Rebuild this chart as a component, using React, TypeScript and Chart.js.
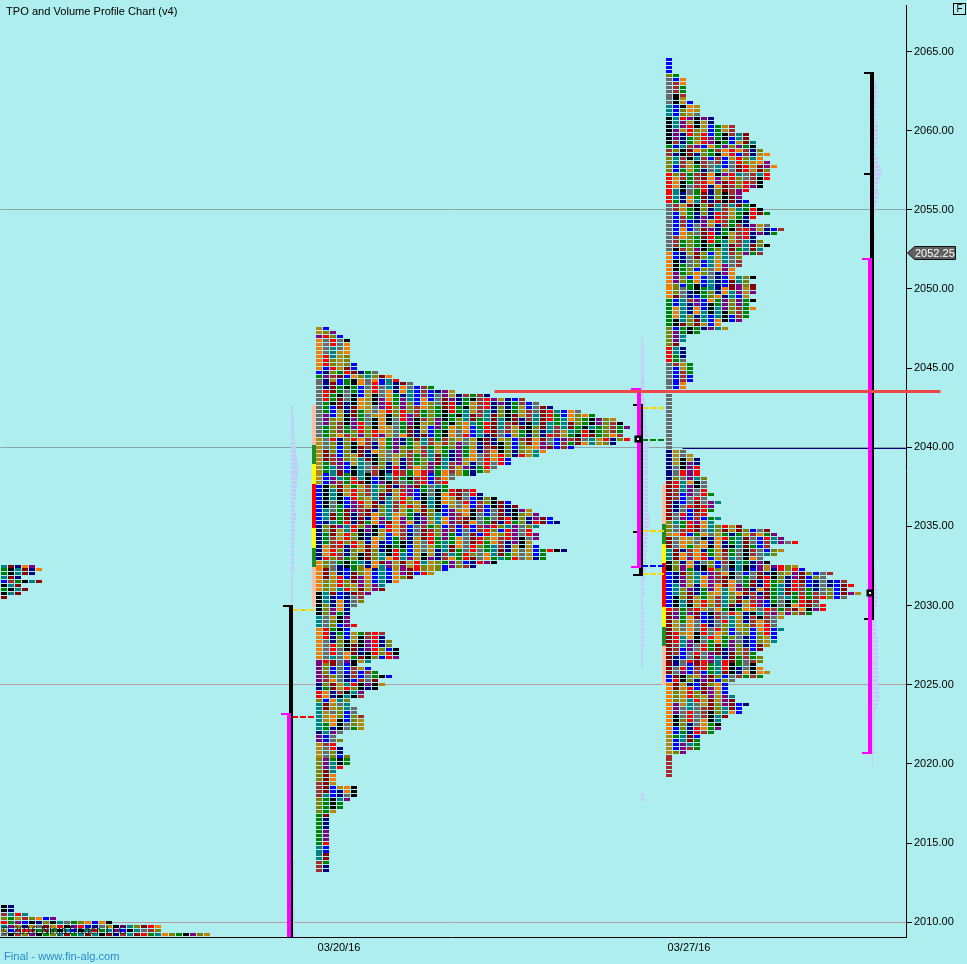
import React, { useEffect, useRef } from "react";
import { Chart, registerables } from "chart.js";

Chart.register(...registerables);

// ---------- palette (order of the 30-minute periods) ----------
const BL = 0, BR = 1, GN = 2, BK = 3, TL = 4, DR = 5, NV = 6, OR = 7, PU = 8, GD = 9, GY = 10, RD = 11, OL = 12;
const PERIOD_COLORS = ["#0000ff", "#a52a2a", "#008000", "#000000", "#008080", "#8b0000", "#000080", "#f57c00", "#800080", "#b8860b", "#696969", "#ff0000", "#808000"];

// ---------- scales ----------
const PRICE_MIN = 2009.07;
const PRICE_MAX = 2067.935;
const COL_MIN = 0;
const COL_MAX = 129.43;
const PRICE_TICKS = [2010, 2015, 2020, 2025, 2030, 2035, 2040, 2045, 2050, 2055, 2060, 2065];
const DATE_TICK_COLS = [48.43, 98.43];
const DATE_TICK_LABELS = ["03/20/16", "03/27/16"];
const CURRENT_PRICE = 2052.25;

// ---------- TPO profiles: number of TPOs on each 0.25 price row, top to bottom ----------
const LEFT_TOP_PRICE = 2032.5;
const LEFT_COL = 0.14;
const LEFT_ROWS = [5, 6, 5, 3, 6, 3, 4, 3, 1];
const LEFT_FIRST = [[TL, 1], [GN, 2], [TL, 1], [BL, 1], [BK, 1], [GN, 1], [BK, 1], [DR, 1]];

const CORNER_TOP_PRICE = 2011;
const CORNER_ROWS = [2, 2, 4, 8, 16, 23, 23, 30, 37];
const CORNER_FIRST = [[BK, 2], [BR, 1], [OL, 1], [RD, 1], [TL, 1], [GD, 1], [GY, 1], [OL, 1]];

const WEEK1_TOP_PRICE = 2047.5;
const WEEK1_COL = 45.143;
const WEEK1_ROWS = [
  2, 3, 4, 5, 5, 5, 5, 5, 5, 6, 6, 9, 11, 12, 14,
  17, 20, 25, 30, 32, 34, 38, 40, 43, 44, 45, 44, 44, 45, 43, 37, 33, 32, 28, 28,
  26, 25, 23, 20, 19, 19, 23, 24, 26, 28, 29, 31, 32, 34, 35, 32, 31, 32, 32, 31,
  32, 36, 33, 33, 26, 23, 19, 17, 14, 12, 10, 10, 8, 7,
  7, 6, 5, 5, 5, 5, 6, 5, 10, 10, 11, 11, 12, 12, 12, 8, 6, 8, 9, 11, 9, 10, 9, 7, 7, 5, 5, 6, 6, 7, 7, 7, 7, 4, 3, 4,
  3, 4, 4, 5, 5, 5, 4, 3, 3, 3, 3, 6, 6, 6, 5, 4, 4, 3, 2, 2, 2, 2, 2, 2, 2, 2, 2, 2, 2, 2, 2, 2, 2,
];
const WEEK1_FIRST = [
  [GD, 2], [PU, 1], [OR, 8], [BL, 1], [GN, 1], [GY, 15], [GD, 12], [BL, 10], [NV, 9], [OR, 8], [BK, 6], [TL, 3], [OR, 8],
  [PU, 6], [NV, 2], [RD, 2], [OL, 1], [TL, 7], [NV, 1], [PU, 2], [GD, 4], [OL, 6], [BR, 4], [OL, 4], [GN, 8], [TL, 4], [BR, 3],
];

const WEEK2_TOP_PRICE = 2064.5;
const WEEK2_COL = 95.143;
const WEEK2_UPPER_ROWS = [
  1, 1, 1, 1, 2, 3, 3, 3, 3, 3, 3, 4, 5, 5, 5, 7, 7, 10, 10, 12, 12, 13, 13, 14, 15, 14, 15, 16, 15, 15, 15, 14, 14, 12, 11, 11,
  12, 13, 14, 15, 13, 12, 15, 17, 16, 13, 14, 15, 14, 14, 11, 11, 11, 10, 10, 13, 12, 13, 13, 13, 12, 13, 12, 13, 12, 12,
  11, 8, 9, 5, 3, 3, 2, 3, 3, 3, 3, 4, 4, 4, 4, 4, 3, 3,
  1, 1, 1, 1, 1, 1, 1, 1, 1, 1, 1, 1, 1, 1,
];
const WEEK2_LOWER_ROWS = [
  1, 3, 4, 5, 5, 5, 5, 5, 6, 6, 6, 6, 7, 6, 8, 7, 7, 6, 8, 7,
  11, 15, 16, 17, 19, 15, 17, 16, 14, 15, 19, 20, 24, 23, 26, 27, 26, 28, 26, 22, 23, 23, 21, 17, 16, 16, 17,
  16, 16, 16, 15, 14, 13, 14, 14, 13, 14, 15, 14, 10, 9, 9, 9, 10, 10, 12, 11, 11, 9, 8, 8, 8, 7, 5, 5, 5, 5, 3, 1, 1, 1, 1, 1, 1,
];
const WEEK2_UPPER_FIRST = [
  [BL, 4], [OL, 1], [GY, 7], [TL, 3], [BK, 7], [GN, 1], [BR, 2], [OL, 4], [RD, 8], [GY, 12], [OR, 12], [GN, 7], [OL, 5], [RD, 4], [GY, 21],
];
const WEEK2_LOWER_FIRST = [
  [GY, 1], [NV, 8], [DR, 10], [OL, 3], [GD, 1], [DR, 3], [TL, 3], [BK, 3], [BL, 9], [RD, 1], [DR, 16], [BL, 2], [OR, 13], [GD, 5], [BR, 6],
];

// ---------- volume profiles: relative volume on each 0.25 price row ----------
const VOLUME_COLOR = "#c2cbfa";
const VOL1_COL = 41.57;
const VOL1_TOP_PRICE = 2042.5;
const VOL1_ROWS = [2, 2, 3, 3, 3, 3, 3, 3, 4, 4, 5, 5, 6, 6, 7, 7, 7, 7, 6, 6, 6, 5, 5, 5, 4, 4, 4, 5, 5, 4, 4, 4, 4, 4, 3, 3, 3, 3, 3, 3, 3, 3, 2, 2, 2, 2, 2, 2, 2, 2, 2, 2];
const VOL1B_TOP_PRICE = 2013.75;
const VOL1B_ROWS = [4, 3, 3, 3, 3, 4, 3, 3, 3, 3, 3, 3, 4, 4, 4, 4, 3, 3, 4];
const VOL2_COL = 91.57;
const VOL2_TOP_PRICE = 2046.75;
const VOL2_ROWS = [
  2, 2, 3, 2, 3, 3, 3, 2, 3, 3, 3, 3, 3, 3, 3, 4, 4, 4, 4, 4, 5, 5, 6, 6, 7, 8, 8, 8, 7, 7, 7, 7, 7, 7, 7, 7, 7, 7, 7, 7, 7, 7, 7, 7,
  8, 9, 9, 8, 8, 7, 7, 6, 6, 6, 5, 5, 5, 4, 5, 4, 4, 3, 3, 3, 3, 2, 2, 2, 3, 3, 3, 3, 3, 3, 3, 3, 3, 3, 2, 2, 2, 2, 2,
];
const VOL2B_TOP_PRICE = 2018;
const VOL2B_ROWS = [3, 3];
const VOL3_COL = 124.57;
const VOL3_TOP_PRICE = 2063;
const VOL3_ROWS = [4, 5, 5, 4, 4, 4, 4, 4, 4, 4, 5, 6, 6, 6, 6, 5, 4, 4, 4, 6, 6, 8, 10, 9, 8, 6, 5, 6, 7, 6, 5, 4, 3, 3, 2, 2, 2, 1, 3, 3];
const VOL3B_TOP_PRICE = 2032.5;
const VOL3B_ROWS = [3, 3, 3, 3, 3, 4, 5, 5, 5, 5, 5, 3, 3, 3, 4, 4, 5, 5, 6, 6, 6, 6, 6, 7, 6, 6, 6, 6, 7, 6, 6, 7, 7, 8, 7, 6, 5, 3, 3, 2, 2, 2, 2, 3, 2, 2, 2, 2, 1, 1, 1, 1];

// ---------- session strips beside each profile: [colour, upper price, lower price] ----------
const PEACH = "#ffbfa6", FOREST = "#228b22", YELLOW = "#ffff00", STRIP_RED = "#ff0000";
const STRIP1_COL = 44.86;
const STRIP1 = [
  [PEACH, 2042.68, 2040.15], [FOREST, 2040.15, 2038.95], [YELLOW, 2038.95, 2037.69], [STRIP_RED, 2037.69, 2034.9],
  [YELLOW, 2034.9, 2033.64], [FOREST, 2033.64, 2032.44], [PEACH, 2032.44, 2029.91],
];
const STRIP2_COL = 94.86;
const STRIP2 = [
  [PEACH, 2037.69, 2035.16], [FOREST, 2035.16, 2033.89], [YELLOW, 2033.89, 2032.69], [STRIP_RED, 2032.69, 2029.91],
  [YELLOW, 2029.91, 2028.65], [FOREST, 2028.65, 2027.44], [PEACH, 2027.44, 2024.98],
];

// ---------- range bars: [colour, width, col from, price from, col to, price to] ----------
const BLACK = "#000000", MAGENTA = "#ff00ff";
const BLACK_BARS = [
  [BLACK, 4, 41.57, 2029.95, 41.57, 2009.07],
  [BLACK, 2, 40.43, 2029.95, 41.86, 2029.95],
  [BLACK, 4, 91.57, 2042.68, 91.57, 2031.93],
  [BLACK, 2, 90.43, 2042.68, 91.86, 2042.68],
  [BLACK, 2, 90.43, 2034.65, 91.86, 2034.65],
  [BLACK, 2, 90.43, 2031.93, 91.86, 2031.93],
  [BLACK, 4, 124.57, 2063.67, 124.57, 2051.9],
  [BLACK, 2, 124.71, 2051.9, 124.71, 2029.15],
  [BLACK, 2, 123.43, 2063.67, 124.86, 2063.67],
  [BLACK, 2, 123.43, 2057.25, 124.29, 2057.25],
  [BLACK, 2, 123.43, 2029.15, 124.86, 2029.15],
];
const MAGENTA_BARS = [
  [MAGENTA, 4, 41.29, 2023.15, 41.29, 2009.07],
  [MAGENTA, 2, 40.14, 2023.15, 41.57, 2023.15],
  [MAGENTA, 4, 91.29, 2043.69, 91.29, 2032.44],
  [MAGENTA, 2, 90.14, 2043.69, 91.57, 2043.69],
  [MAGENTA, 2, 90.14, 2032.44, 91.57, 2032.44],
  [MAGENTA, 4, 124.29, 2051.9, 124.29, 2020.68],
  [MAGENTA, 2, 123.14, 2051.9, 124.57, 2051.9],
  [MAGENTA, 2, 123.14, 2020.68, 124.57, 2020.68],
];

// ---------- dashed levels: [colour, price, col from, col to] ----------
const DASH_YELLOW = "#ffd400", DASH_GREEN = "#008000", DASH_BLUE = "#0000ff", DASH_RED = "#ff0000";
const DASHED_LEVELS = [
  [DASH_YELLOW, 2029.72, 41.71, 44.86],
  [DASH_RED, 2022.95, 41.71, 44.86],
  [DASH_YELLOW, 2042.49, 91.71, 94.86],
  [DASH_GREEN, 2040.47, 91.71, 94.86],
  [DASH_YELLOW, 2034.71, 91.71, 94.86],
  [DASH_BLUE, 2032.5, 91.71, 94.86],
  [DASH_YELLOW, 2031.99, 91.71, 94.86],
];

// ---------- price lines ----------
const GRID_LEVELS = [
  [2055, "#8da6ab"],
  [2040, "#8da6ab"],
  [2025, "#b89aa0"],
  [2010, "#b89aa0"],
];
const NAVY_LEVEL = 2039.92;
const NAVY_FROM_COL = 97.43;
const RED_LEVEL = 2043.55;
const RED_FROM_COL = 70.71;
const RED_TO_COL = 134.29;
const VPOC_POINTS = [
  [91.14, 2040.53],
  [124.29, 2030.79],
];

// ---------- building marks from the lists ----------
function expandRuns(runs: number[][]) {
  const out: number[] = [];
  runs.forEach(([idx, n]) => {
    for (let i = 0; i < n; i++) out.push(idx);
  });
  return out;
}

// The period a TPO belongs to stays the same for a few rows in a column, then moves on.
function stepOffset(row: number, col: number) {
  if (col === 0) return 0;
  const block = Math.floor((row + col * 2) / 3);
  return (block * block * 7 + block * col * 5 + col * 3) % 13;
}

type Cell = { x: number[]; y: number };

function addProfile(cells: Cell[], colors: string[], rows: number[], topPrice: number, startCol: number, first: number[], rowShift: number, useSteps: boolean) {
  rows.forEach((count, r) => {
    let prev = -1;
    for (let c = 0; c < count; c++) {
      const offset = useSteps ? stepOffset(r + rowShift, c) : 0;
      let idx = (first[r] + c + offset) % 13;
      if (idx === prev) idx = (idx + 1) % 13;
      prev = idx;
      colors.push(PERIOD_COLORS[idx]);
      cells.push({ x: [startCol + c, startCol + c + 6 / 7], y: topPrice - r * 0.25 });
    }
  });
}

function buildCells() {
  const cells: Cell[] = [];
  const colors: string[] = [];
  addProfile(cells, colors, LEFT_ROWS, LEFT_TOP_PRICE, LEFT_COL, expandRuns(LEFT_FIRST), 0, false);
  addProfile(cells, colors, CORNER_ROWS, CORNER_TOP_PRICE, LEFT_COL, expandRuns(CORNER_FIRST), 3, true);
  addProfile(cells, colors, WEEK1_ROWS, WEEK1_TOP_PRICE, WEEK1_COL, expandRuns(WEEK1_FIRST), 0, true);
  addProfile(cells, colors, WEEK2_UPPER_ROWS, WEEK2_TOP_PRICE, WEEK2_COL, expandRuns(WEEK2_UPPER_FIRST), 1, true);
  addProfile(cells, colors, WEEK2_LOWER_ROWS, 2040, WEEK2_COL, expandRuns(WEEK2_LOWER_FIRST), 2, true);
  return { cells, colors };
}

function buildVolume() {
  const add = (rows: number[], top: number, col: number) =>
    rows.map((v, r) => ({ x: [col, col + v / 7], y: top - r * 0.25 }));
  return [
    ...add(VOL1_ROWS, VOL1_TOP_PRICE, VOL1_COL),
    ...add(VOL1B_ROWS, VOL1B_TOP_PRICE, VOL1_COL),
    ...add(VOL2_ROWS, VOL2_TOP_PRICE, VOL2_COL),
    ...add(VOL2B_ROWS, VOL2B_TOP_PRICE, VOL2_COL),
    ...add(VOL3_ROWS, VOL3_TOP_PRICE, VOL3_COL),
    ...add(VOL3B_ROWS, VOL3B_TOP_PRICE, VOL3_COL),
  ];
}

function segment(color: string, width: number, pts: number[][], order: number, extra: object = {}) {
  return {
    type: "line",
    indexAxis: "x",
    data: pts.map(([x, y]) => ({ x, y })),
    borderColor: color,
    borderWidth: width,
    borderCapStyle: "butt",
    pointRadius: 0,
    fill: false,
    tension: 0,
    order,
    ...extra,
  };
}

function buildDatasets() {
  const { cells, colors } = buildCells();
  const list: any[] = [];
  GRID_LEVELS.forEach(([p, c]) => list.push(segment(c as string, 1, [[COL_MIN, p as number], [COL_MAX, p as number]], 100)));
  list.push({
    type: "bar",
    indexAxis: "y",
    data: buildVolume(),
    backgroundColor: VOLUME_COLOR,
    barThickness: 3,
    grouped: false,
    inflateAmount: 0,
    borderWidth: 0,
    order: 90,
  });
  list.push({
    type: "bar",
    indexAxis: "y",
    data: cells,
    backgroundColor: colors,
    barThickness: 3,
    grouped: false,
    inflateAmount: 0,
    borderWidth: 0,
    order: 80,
  });
  list.push(segment("#000080", 1, [[NAVY_FROM_COL, NAVY_LEVEL], [COL_MAX, NAVY_LEVEL]], 75));
  [[STRIP1, STRIP1_COL], [STRIP2, STRIP2_COL]].forEach(([strip, col]: any) => {
    strip.forEach(([color, hi, lo]: any) => list.push(segment(color, 4, [[col, hi], [col, lo]], 70)));
  });
  DASHED_LEVELS.forEach(([c, p, a, b]) =>
    list.push(segment(c as string, 2, [[a as number, p as number], [b as number, p as number]], 60, { borderDash: [6, 2] })),
  );
  BLACK_BARS.forEach(([c, w, x0, y0, x1, y1]) =>
    list.push(segment(c as string, w as number, [[x0 as number, y0 as number], [x1 as number, y1 as number]], 50)),
  );
  MAGENTA_BARS.forEach(([c, w, x0, y0, x1, y1]) =>
    list.push(segment(c as string, w as number, [[x0 as number, y0 as number], [x1 as number, y1 as number]], 40)),
  );
  list.push({
    type: "line",
    indexAxis: "x",
    data: VPOC_POINTS.map(([x, y]) => ({ x, y })),
    showLine: false,
    pointStyle: "rect",
    pointRadius: 3.2,
    pointBorderWidth: 2.5,
    pointBorderColor: "#000000",
    pointBackgroundColor: "#ffffff",
    order: 30,
  });
  list.push(segment("#f04848", 3, [[RED_FROM_COL, RED_LEVEL], [RED_TO_COL, RED_LEVEL]], 10, { clip: false }));
  return list;
}

const FONT = '"Liberation Sans", Arial, sans-serif';

// Bars and lines land on whole pixels, as the original platform draws them.
const pixelSnap = {
  id: "pixelSnap",
  beforeDatasetsDraw(chart: any) {
    if (chart.$snapped) return;
    chart.$snapped = true;
    chart.data.datasets.forEach((ds: any, i: number) => {
      const meta = chart.getDatasetMeta(i);
      if (ds.type === "bar") {
        meta.data.forEach((el: any) => {
          el.y = Math.round(el.y - el.height / 2) + el.height / 2;
          el.x = Math.round(el.x);
          el.base = Math.round(el.base);
        });
      } else if (ds.showLine !== false) {
        const odd = ds.borderWidth % 2 === 1;
        meta.data.forEach((p: any) => {
          p.x = odd ? Math.floor(p.x) + 0.5 : Math.round(p.x);
          p.y = odd ? Math.floor(p.y) + 0.5 : Math.round(p.y);
        });
      }
    });
  },
};

const annotations = {
  id: "annotations",
  afterDraw(chart: any) {
    const { ctx, scales } = chart;
    ctx.save();
    ctx.textBaseline = "middle";
    ctx.textAlign = "left";

    ctx.font = `11.1px ${FONT}`;
    ctx.fillStyle = "#000000";
    ctx.fillText("TPO and Volume Profile Chart (v4)", 6, 12);

    ctx.font = `11.4px ${FONT}`;
    ctx.fillStyle = "rgba(0,0,0,0.85)";
    ctx.fillText("© 2016 NinjaTrader, LLC", 1, 931);

    ctx.font = `11.2px ${FONT}`;
    ctx.fillStyle = "#2b8ccc";
    ctx.fillText("Final - www.fin-alg.com", 4, 957);

    ctx.strokeStyle = "#000000";
    ctx.lineWidth = 1;
    ctx.strokeRect(953.5, 3.5, 12, 11);
    ctx.font = `10px ${FONT}`;
    ctx.fillStyle = "#000000";
    ctx.textAlign = "center";
    ctx.fillText("F", 959.5, 9.5);

    const y = Math.round(scales.y.getPixelForValue(CURRENT_PRICE));
    ctx.beginPath();
    ctx.moveTo(907.5, y);
    ctx.lineTo(914.5, y - 6.5);
    ctx.lineTo(955.5, y - 6.5);
    ctx.lineTo(955.5, y + 6.5);
    ctx.lineTo(914.5, y + 6.5);
    ctx.closePath();
    ctx.fillStyle = "#606060";
    ctx.fill();
    ctx.strokeStyle = "#111111";
    ctx.stroke();
    ctx.font = `11px ${FONT}`;
    ctx.fillStyle = "#ffffff";
    ctx.textAlign = "left";
    ctx.fillText(CURRENT_PRICE.toFixed(2), 915, y + 0.5);
    ctx.restore();
  },
};

function fitAxis(s: any) {
  s.paddingLeft = 0;
  s.paddingRight = 0;
  s.paddingTop = 0;
  s.paddingBottom = 0;
}

export default function App() {
  const ref = useRef<HTMLCanvasElement | null>(null);
  useEffect(() => {
    document.body.style.margin = "0";
    document.body.style.background = "#afeeee";
    const chart = new Chart(ref.current as HTMLCanvasElement, {
      type: "scatter",
      data: { datasets: buildDatasets() },
      options: {
        responsive: false,
        animation: false,
        devicePixelRatio: 1,
        events: [],
        layout: { autoPadding: false, padding: { top: 5, left: 0, right: 0, bottom: 0 } },
        plugins: { legend: { display: false }, tooltip: { enabled: false }, title: { display: false } },
        scales: {
          x: {
            type: "linear",
            position: "bottom",
            min: COL_MIN,
            max: COL_MAX,
            offset: false,
            beginAtZero: false,
            grid: { display: false, offset: false, drawTicks: false },
            border: { display: true, color: "#000000", width: 1 },
            afterBuildTicks: (s: any) => {
              s.ticks = DATE_TICK_COLS.map((value) => ({ value }));
            },
            afterFit: (s: any) => {
              s.height = 27;
              fitAxis(s);
            },
            ticks: {
              autoSkip: false,
              maxRotation: 0,
              padding: 4,
              color: "#000000",
              font: { family: FONT, size: 11 },
              callback: (v: any) => DATE_TICK_LABELS[DATE_TICK_COLS.indexOf(Number(v))],
            },
          },
          y: {
            type: "linear",
            position: "right",
            min: PRICE_MIN,
            max: PRICE_MAX,
            offset: false,
            beginAtZero: false,
            grid: { drawOnChartArea: false, offset: false, drawTicks: true, tickLength: 6, color: "#000000" },
            border: { display: true, color: "#000000", width: 1 },
            afterBuildTicks: (s: any) => {
              s.ticks = PRICE_TICKS.map((value) => ({ value }));
            },
            afterFit: (s: any) => {
              s.width = 61;
              fitAxis(s);
            },
            ticks: {
              autoSkip: false,
              padding: 2,
              color: "#000000",
              font: { family: FONT, size: 11 },
              callback: (v: any) => Number(v).toFixed(2),
            },
          },
        },
      },
      plugins: [pixelSnap, annotations],
    } as any);
    return () => chart.destroy();
  }, []);
  return (
    <div style={{ width: 967, height: 964, background: "#afeeee", overflow: "hidden" }}>
      <canvas ref={ref} width={967} height={964} style={{ display: "block" }} />
    </div>
  );
}
